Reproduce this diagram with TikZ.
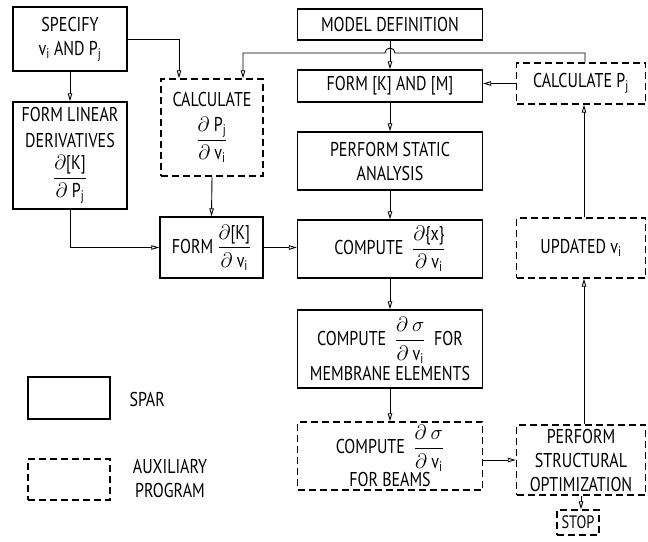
\documentclass[tikz,border=0pt]{standalone}
\usepackage{fontspec}
\setmainfont{PT Sans}[FakeStretch=0.8]
\usepackage{amsmath}
\usetikzlibrary{arrows.meta}
\newcommand\fs{\fontsize{20}{24}\selectfont}
\newcommand\fr[2]{$\displaystyle\frac{\mbox{#1\rule[-2pt]{0pt}{2pt}}}{\mbox{\rule{0pt}{13pt}#2}}$}
\newcommand\pd{$\partial$}
\begin{document}
\begin{tikzpicture}[x=1pt,y=-1pt,
  sbox/.style={draw, line width=1.4pt, inner sep=1pt, align=center, font=\fs},
  dbox/.style={sbox, dash pattern=on 7pt off 4pt},
  conn/.style={line width=0.9pt, -{Triangle[open,length=8pt,width=4.5pt]}},
  plain/.style={line width=0.9pt}]
\useasboundingbox (0,0) rectangle (648,541);
% left column
\node[sbox, minimum width=114pt, minimum height=64pt] (spec) at (70,39)
  {SPECIFY\\ v\textsubscript{i} AND P\textsubscript{j}};
\node[sbox, minimum width=114pt, minimum height=107pt] (fld) at (70,155.5)
  {FORM LINEAR\\[2pt] DERIVATIVES\\[6pt] \fr{\pd[K]}{\pd\ P\textsubscript{j}}};
\node[dbox, minimum width=102pt, minimum height=97pt] (cdp) at (212,127.5)
  {CALCULATE\\[9pt] \fr{\pd\ P\textsubscript{j}}{\pd\ v\textsubscript{i}}};
\node[sbox, minimum width=103pt, minimum height=61pt] (form) at (211.5,247.5)
  {FORM\ \fr{\pd[K]}{\pd\ v\textsubscript{i}}};
% centre column
\node[sbox, minimum width=185pt, minimum height=31pt] (md) at (390,24.5) {MODEL DEFINITION};
\node[sbox, minimum width=185pt, minimum height=32pt] (fkm) at (390,86) {FORM [K] AND [M]};
\node[sbox, minimum width=185pt, minimum height=58pt] (psa) at (390,161) {PERFORM STATIC\\ ANALYSIS};
\node[sbox, minimum width=185pt, minimum height=58pt] (cdx) at (390,249)
  {COMPUTE\ \ \fr{\pd\{x\}}{\pd\ v\textsubscript{i}}};
\node[sbox, minimum width=185pt, minimum height=78pt] (cdm) at (390,349)
  {COMPUTE\ \ \fr{\pd\ $\sigma$}{\pd\ v\textsubscript{i}}\ \ FOR\\[2pt] MEMBRANE ELEMENTS};
\node[dbox, minimum width=185pt, minimum height=68pt] (cdb) at (390,456)
  {COMPUTE\ \ \fr{\pd\ $\sigma$}{\pd\ v\textsubscript{i}}\\[0pt] FOR BEAMS};
% right column
\node[dbox, minimum width=129pt, minimum height=41pt] (cpj) at (581,83.5) {CALCULATE P\textsubscript{j}};
\node[dbox, minimum width=129pt, minimum height=60pt] (upd) at (581,248) {UPDATED v\textsubscript{i}};
\node[dbox, minimum width=129pt, minimum height=70pt] (pso) at (581,460)
  {PERFORM\\ STRUCTURAL\\ OPTIMIZATION};
\node[dbox, minimum width=42pt, minimum height=25pt, inner sep=1pt, font=\fontsize{18}{20}\selectfont] (stop) at (578,522.5) {STOP};
% legend
\node[sbox, minimum width=82pt, minimum height=42pt] (leg1) at (69,398) {};
\node[font=\fs, anchor=west] (leg1t) at (126,399) {SPAR};
\node[dbox, minimum width=82pt, minimum height=41pt] (leg2) at (69,479.5) {};
\node[font=\fs, align=center] (leg2t) at (170,479) {AUXILIARY\\ PROGRAM};
% connectors
\draw[conn] (spec.south) -- (fld.north);
\draw[conn] (spec.east) -| ([xshift=-33pt]cdp.north);
\draw[conn] (fld.south) |- (form.west);
\draw[conn] (cdp.south) -- (form.north);
\draw[conn] (form.east) -- (form.east -| cdx.west);
\draw[conn] (md.south) -- (fkm.north);
\draw[conn] (fkm.south) -- (psa.north);
\draw[conn] (psa.south) -- (cdx.north);
\draw[conn] (cdx.south) -- (cdm.north);
\draw[conn] (cdm.south) -- (cdb.north);
\coordinate (hop) at (395,53);
\draw[conn] ([xshift=4pt]cpj.north) |- (hop) arc[start angle=0, end angle=-180, radius=5] -| ([xshift=31pt]cdp.north);
\draw[conn] (cpj.west) -- (cpj.west -| fkm.east);
\draw[conn] ([xshift=3pt]upd.north) -- ([xshift=3pt]cpj.south);
\draw[conn] ([xshift=3pt]pso.north) -- ([xshift=3pt]upd.south);
\draw[conn] (pso.south) -- (pso.south |- stop.north);
\draw[conn] (cdb.east |- pso.west) -- (pso.west);
\end{tikzpicture}
\end{document}
